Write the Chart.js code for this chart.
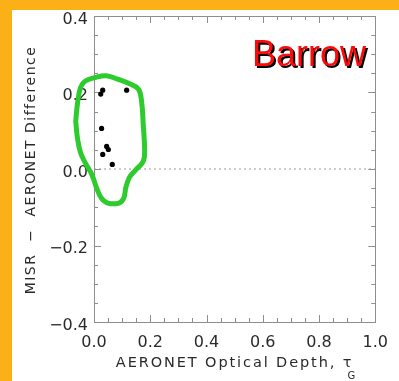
<!DOCTYPE html>
<html><head><meta charset="utf-8">
<script src="https://cdn.jsdelivr.net/npm/chart.js@4/dist/chart.umd.min.js"></script>
<style>
html,body{margin:0;padding:0;background:#FCB017;width:399px;height:381px;overflow:hidden}
#panel{position:absolute;left:12px;top:10px;width:387px;height:371px;background:#fff}
#c{position:absolute;left:12px;top:0}
</style></head><body>
<div id="panel"></div>
<canvas id="c" width="387" height="381"></canvas>
<script>
// Data
const aeronetTau       = [0.031, 0.024, 0.116, 0.027, 0.045, 0.051, 0.031, 0.065];
const misrMinusAeronet = [0.206, 0.196, 0.206, 0.106, 0.059, 0.051, 0.038, 0.012];

// Hand-drawn green outline around the points (data units)
const loopTau  = [-0.065,-0.059,-0.048,-0.031, 0.003, 0.043, 0.083, 0.129, 0.158, 0.169, 0.175, 0.180, 0.175, 0.146, 0.126, 0.113, 0.106, 0.089, 0.049, 0.026, 0.009,-0.008,-0.031,-0.048,-0.059,-0.065];
const loopDiff = [ 0.125, 0.169, 0.213, 0.230, 0.239, 0.244, 0.235, 0.222, 0.209, 0.178, 0.117, 0.047, 0.020,-0.004,-0.022,-0.049,-0.076,-0.089,-0.089,-0.076,-0.049,-0.014, 0.016, 0.043, 0.082, 0.125];

// Dotted zero reference line
const zeroLineTau  = [0, 1];
const zeroLineDiff = [0, 0];

const xTicks = [0, 0.2, 0.4, 0.6, 0.8, 1.0];
const xTickLabels = ['0.0', '0.2', '0.4', '0.6', '0.8', '1.0'];
const yTicks = [-0.4, -0.2, 0, 0.2, 0.4];
const yTickLabels = ['\u22120.4', '\u22120.2', '0.0', '0.2', '0.4'];
const xMinorTicks = [0,0.05,0.1,0.15,0.2,0.25,0.3,0.35,0.4,0.45,0.5,0.55,0.6,0.65,0.7,0.75,0.8,0.85,0.9,0.95,1.0];
const yMinorTicks = [-0.4,-0.35,-0.3,-0.25,-0.2,-0.15,-0.1,-0.05,0,0.05,0.1,0.15,0.2,0.25,0.3,0.35,0.4];

const siteName = 'Barrow';
const xTitle = 'AERONET Optical Depth, \u03c4';
const xTitleSub = 'G';
const yTitle = 'MISR  \u2212  AERONET Difference';

const FONT = '"DejaVu Sans", "Liberation Sans", Arial, sans-serif';
const AXIS_GRAY = '#8e8e8e';

const pts = (xs, ys) => xs.map((x, i) => ({x, y: ys[i]}));

const framePlugin = {
  id: 'frame',
  beforeDatasetsDraw(chart) {
    const {ctx, chartArea: ca, scales: {x, y}} = chart;
    ctx.save();
    ctx.strokeStyle = AXIS_GRAY;
    ctx.lineWidth = 1;
    ctx.strokeRect(Math.round(ca.left) + 0.5, Math.round(ca.top) + 0.5,
                   Math.round(ca.right - ca.left), Math.round(ca.bottom - ca.top));
    ctx.beginPath();
    xMinorTicks.forEach(v => {
      const px = Math.round(x.getPixelForValue(v)) + 0.5;
      const len = xTicks.some(t => Math.abs(t - v) < 1e-9) ? 7 : 4;
      ctx.moveTo(px, ca.bottom); ctx.lineTo(px, ca.bottom - len);
      ctx.moveTo(px, ca.top); ctx.lineTo(px, ca.top + len);
    });
    yMinorTicks.forEach(v => {
      const py = Math.round(y.getPixelForValue(v)) + 0.5;
      const len = yTicks.some(t => Math.abs(t - v) < 1e-9) ? 7 : 4;
      ctx.moveTo(ca.left, py); ctx.lineTo(ca.left + len, py);
      ctx.moveTo(ca.right, py); ctx.lineTo(ca.right - len, py);
    });
    ctx.stroke();
    ctx.restore();
  },
  afterDraw(chart) {
    const {ctx, chartArea: ca} = chart;
    ctx.save();
    ctx.fillStyle = '#2a2a2a';
    // x title
    ctx.letterSpacing = '1.9px';
    ctx.font = '14.5px ' + FONT;
    ctx.textBaseline = 'middle';
    ctx.textAlign = 'left';
    const w = ctx.measureText(xTitle).width;
    const cx = (ca.left + ca.right) / 2;
    const x0 = cx - w / 2;
    ctx.fillText(xTitle, x0, 363);
    ctx.font = '10px ' + FONT;
    ctx.letterSpacing = '0px';
    ctx.fillText(xTitleSub, x0 + w - 6, 376);
    // y title
    ctx.letterSpacing = '1.5px';
    ctx.font = '14px ' + FONT;
    ctx.translate(19, 170);
    ctx.rotate(-Math.PI / 2);
    ctx.textAlign = 'center';
    ctx.fillText(yTitle, 0, 0);
    ctx.restore();

    // site label
    ctx.save();
    ctx.font = '36px "Liberation Sans", Arial, sans-serif';
    ctx.textAlign = 'left';
    ctx.textBaseline = 'alphabetic';
    const tx = ca.left + 158, ty = ca.top + 50;
    ctx.fillStyle = '#000';
    ctx.fillText(siteName, tx + 2, ty + 2);
    ctx.fillStyle = '#FF0A0A';
    ctx.fillText(siteName, tx, ty);
    ctx.restore();
  }
};

new Chart(document.getElementById('c'), {
  type: 'scatter',
  data: {
    datasets: [
      {
        data: pts(loopTau, loopDiff),
        showLine: true, tension: 0.4,
        borderColor: '#2DCB2D', borderWidth: 5,
        borderCapStyle: 'round', borderJoinStyle: 'round',
        pointRadius: 0, clip: false, order: 0
      },
      {
        data: pts(aeronetTau, misrMinusAeronet),
        backgroundColor: '#000', borderColor: '#000', borderWidth: 0,
        pointRadius: 2.6, order: 1
      },
      {
        data: pts(zeroLineTau, zeroLineDiff),
        showLine: true, borderColor: '#9a9a9a', borderWidth: 1,
        borderDash: [2, 3], pointRadius: 0, order: 2
      }
    ]
  },
  options: {
    responsive: false, animation: false, devicePixelRatio: 1,
    layout: {padding: {left: 0, top: 16, right: 12, bottom: 0}},
    plugins: {legend: {display: false}, tooltip: {enabled: false}},
    scales: {
      x: {
        type: 'linear', min: 0, max: 1,
        grid: {display: false, drawTicks: false},
        border: {display: false},
        afterBuildTicks: s => { s.ticks = xTicks.map(v => ({value: v})); },
        afterFit: s => { s.height = 59; },
        ticks: {
          padding: 11, color: '#2a2a2a', maxRotation: 0,
          font: {family: FONT, size: 16},
          callback: (v, i) => xTickLabels[i]
        }
      },
      y: {
        type: 'linear', min: -0.4, max: 0.4,
        grid: {display: false, drawTicks: false},
        border: {display: false},
        afterBuildTicks: s => { s.ticks = yTicks.map(v => ({value: v})); },
        afterFit: s => { s.width = 82; },
        ticks: {
          padding: 6, color: '#2a2a2a', labelOffset: 3.5,
          font: {family: FONT, size: 16},
          callback: (v, i) => yTickLabels[i]
        }
      }
    }
  },
  plugins: [framePlugin]
});
</script>
</body></html>
